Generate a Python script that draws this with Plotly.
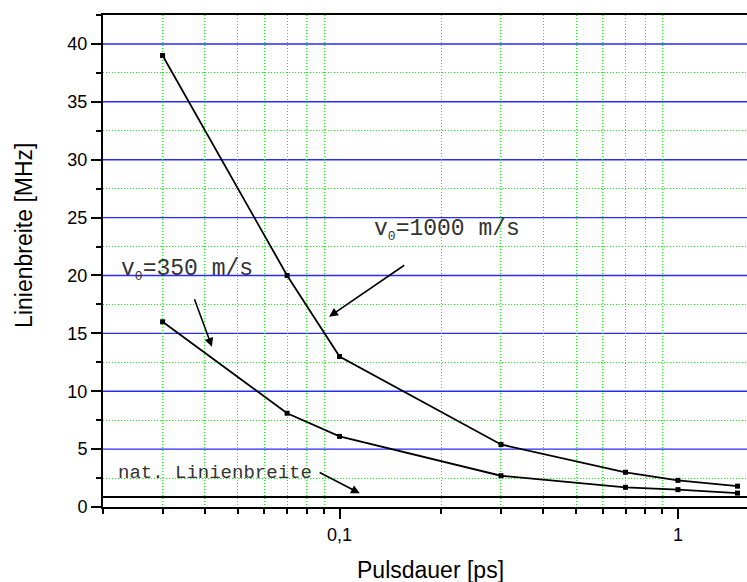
import math
import plotly.graph_objects as go

# ---- data ----
pulse_ps = [0.03, 0.07, 0.1, 0.3, 0.7, 1.0, 1.5]
width_v1000 = [39.0, 20.0, 13.0, 5.4, 3.0, 2.3, 1.8]
width_v350 = [16.0, 8.1, 6.1, 2.7, 1.7, 1.5, 1.2]
nat_width = 0.86

x_tickvals = [0.1, 1]
x_ticktext = ["0,1", "1"]
x_minor_vals = [0.02, 0.03, 0.04, 0.05, 0.06, 0.07, 0.08, 0.09,
                0.2, 0.3, 0.4, 0.5, 0.6, 0.7, 0.8, 0.9]
y_tickvals = [0, 5, 10, 15, 20, 25, 30, 35, 40]
y_minor_vals = [2.5, 7.5, 12.5, 17.5, 22.5, 27.5, 32.5, 37.5, 42.5]

x_range = [0.02, 1.6]
y_range = [0, 42.5]

BLUE_H = "#2a2aff"
BLUE_V = "#2020ff"
GREEN = "#00ff00"
SANS = "Liberation Sans"
MONO = "Liberation Mono"
L = math.log10

fig = go.Figure()

for ys in (width_v1000, width_v350):
    fig.add_trace(go.Scatter(
        x=pulse_ps, y=ys, mode="lines+markers",
        line=dict(color="black", width=1.8),
        marker=dict(symbol="square", size=5, color="black"),
        showlegend=False, hoverinfo="skip",
    ))

shapes = []
# major grid (blue), drawn between minor grid and traces
for xv in x_tickvals:
    shapes.append(dict(type="line", layer="between", xref="x", yref="paper",
                       x0=L(xv), x1=L(xv), y0=0, y1=1,
                       line=dict(color=BLUE_V, width=2)))
for yv in y_tickvals[1:]:
    shapes.append(dict(type="line", layer="between", xref="paper", yref="y",
                       x0=0, x1=1, y0=yv, y1=yv,
                       line=dict(color=BLUE_H, width=1.4)))
# natural line width
shapes.append(dict(type="line", xref="paper", x0=0, x1=1, yref="y",
                   y0=nat_width, y1=nat_width,
                   line=dict(color="black", width=2)))

SUB0 = "<sub><span style='font-size:13px'>0</span></sub>"
annotations = [
    dict(x=L(0.125), y=23.9, text="v" + SUB0 + "=1000 m/s", xanchor="left",
         yanchor="middle", font=dict(family=MONO, size=23, color="#333")),
    dict(x=L(0.02234), y=20.5, text="v" + SUB0 + "=350 m/s", xanchor="left",
         yanchor="middle", font=dict(family=MONO, size=23, color="#333")),
    dict(x=L(0.02184), y=2.95, text="nat. Linienbreite", xanchor="left",
         yanchor="middle", font=dict(family=MONO, size=19, color="#333")),
]
for a in annotations:
    a.update(xref="x", yref="y", showarrow=False)

# axis titles
annotations.append(dict(xref="paper", yref="paper", x=0.509, y=-0.128,
                        text="Pulsdauer [ps]", showarrow=False,
                        xanchor="center", yanchor="middle",
                        font=dict(family=SANS, size=23, color="black")))
annotations.append(dict(xref="paper", yref="paper", x=-0.1227, y=0.553,
                        text="Linienbreite [MHz]", showarrow=False, textangle=-90,
                        xanchor="center", yanchor="middle",
                        font=dict(family=SANS, size=23, color="black")))

arrows = [
    ((-1.0307, 16.44), (-0.8042, 20.97)),
    ((-1.3771, 13.85), (-1.4303, 18.08)),
    ((-0.9400, 1.18), (-1.0632, 3.05)),
]
for (hx, hy), (tx, ty) in arrows:
    annotations.append(dict(
        x=hx, y=hy, ax=tx, ay=ty, xref="x", yref="y", axref="x", ayref="y",
        text="", showarrow=True, arrowhead=2, arrowsize=1.1, arrowwidth=1.6,
        arrowcolor="black", standoff=0, startstandoff=0,
    ))

fig.update_layout(
    width=747, height=582,
    margin=dict(l=103, r=0, t=15, b=75),
    paper_bgcolor="white", plot_bgcolor="white",
    annotations=annotations, shapes=shapes,
    showlegend=False,
)

fig.update_xaxes(
    type="log", range=[L(x_range[0]), L(x_range[1])],
    tickmode="array", tickvals=x_tickvals, ticktext=x_ticktext,
    ticks="outside", ticklen=10, tickwidth=1.5, tickcolor="black",
    showline=True, linecolor="black", linewidth=2, mirror=True,
    showgrid=False, zeroline=False,
    tickfont=dict(family=SANS, size=18, color="black"),
    minor=dict(tickmode="array", tickvals=x_minor_vals, ticks="outside",
               ticklen=5, tickwidth=1.5, tickcolor="black",
               showgrid=True, gridcolor=GREEN, gridwidth=1, griddash="1px,2px"),
)

fig.update_yaxes(
    range=y_range,
    tickmode="array", tickvals=y_tickvals,
    ticks="outside", ticklen=10, tickwidth=1.5, tickcolor="black",
    showline=True, linecolor="black", linewidth=2,
    showgrid=False, zeroline=False,
    tickfont=dict(family=SANS, size=18, color="black"),
    minor=dict(tickmode="array", tickvals=y_minor_vals, ticks="outside",
               ticklen=5, tickwidth=1.5, tickcolor="black",
               showgrid=True, gridcolor=GREEN, gridwidth=1, griddash="1px,2px"),
)

fig.write_html("out.html")
